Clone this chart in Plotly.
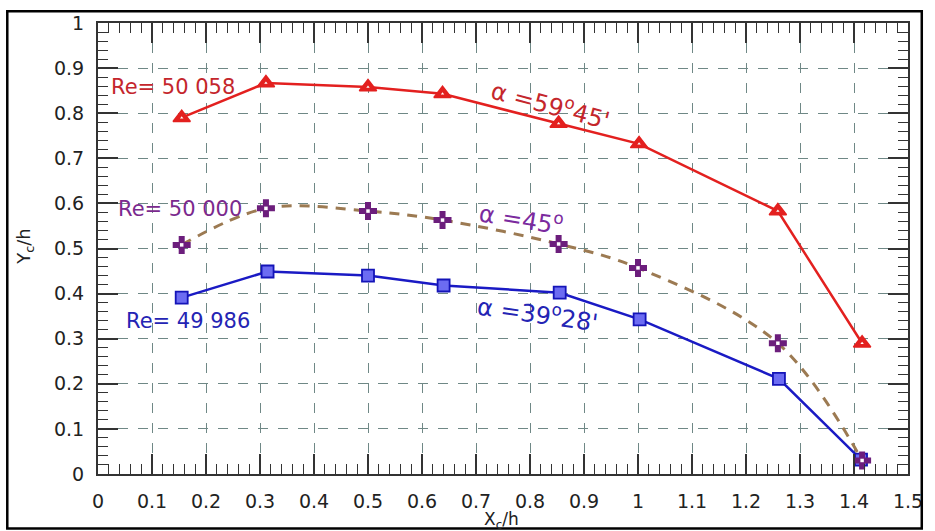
import plotly.graph_objects as go

# Centre-line coordinates of the jet for three inclination angles
x_59 = [0.155, 0.311, 0.500, 0.638, 0.853, 1.002, 1.259, 1.415]
y_59 = [0.790, 0.867, 0.858, 0.843, 0.777, 0.732, 0.583, 0.290]

x_45 = [0.155, 0.311, 0.500, 0.638, 0.853, 1.000, 1.259, 1.415]
y_45 = [0.508, 0.589, 0.583, 0.563, 0.510, 0.457, 0.290, 0.030]

x_39 = [0.155, 0.314, 0.500, 0.640, 0.855, 1.003, 1.261, 1.413]
y_39 = [0.391, 0.449, 0.440, 0.418, 0.402, 0.343, 0.211, 0.032]

x_ticks = [i / 10 for i in range(16)]
y_ticks = [i / 10 for i in range(11)]

RED = "#e3201f"
BLUE = "#1a1ac4"
PURPLE = "#6c1e7c"
TAN = "#9c7a52"
GRID = "#6f8886"
FONT = "DejaVu Sans"

fig = go.Figure()

# alpha = 39°28'
fig.add_trace(go.Scatter(
    x=x_39, y=y_39, mode="lines+markers",
    line=dict(color=BLUE, width=2.5),
    marker=dict(symbol="square", size=12, color="#6c6cf2",
                line=dict(color="#1414b8", width=1.8)),
))

# alpha = 45°: smoothed dashed curve plus cross markers with a white centre
fig.add_trace(go.Scatter(
    x=x_45, y=y_45, mode="lines",
    line=dict(color=TAN, width=3, dash="10px,8px", shape="spline", smoothing=1.0),
))
fig.add_trace(go.Scatter(
    x=x_45, y=y_45, mode="markers",
    marker=dict(symbol="cross", size=15, color=PURPLE, line=dict(width=0)),
))
fig.add_trace(go.Scatter(
    x=x_45, y=y_45, mode="markers",
    marker=dict(symbol="square", size=3.5, color="white", line=dict(width=0)),
))

# alpha = 59°45': solid red triangles with a small white core
fig.add_trace(go.Scatter(
    x=x_59, y=y_59, mode="lines+markers",
    line=dict(color=RED, width=2.5),
    marker=dict(symbol="triangle-up", size=15, color=RED,
                line=dict(color=RED, width=1.5)),
))
fig.add_trace(go.Scatter(
    x=x_59, y=y_59, mode="markers",
    marker=dict(symbol="triangle-up", size=3, color="white", line=dict(width=0)),
))

axis_common = dict(
    showline=True, linecolor="#333333", linewidth=2, mirror="allticks",
    ticks="inside", ticklen=20, tickwidth=1.5, tickcolor="#333333",
    showgrid=True, gridcolor=GRID, gridwidth=1.2, griddash="10px,10px",
    zeroline=False,
    tickfont=dict(family=FONT, size=19, color="#222222"),
    minor=dict(ticks="inside", ticklen=10, tickwidth=1.3, tickcolor="#333333",
               dtick=0.02, showgrid=False),
)

fig.update_xaxes(range=[0, 1.5], tickvals=x_ticks,
                 ticktext=[f"{v:g}" for v in x_ticks],
                 ticklabelstandoff=9, **axis_common)
fig.update_yaxes(range=[0, 1], tickvals=y_ticks,
                 ticktext=[f"{v:g}" for v in y_ticks],
                 ticklabelstandoff=8, **axis_common)

annotations = [
    dict(x=0.021, y=0.858, xref="x", yref="y", text="Re= 50 058",
         xanchor="left", font=dict(color="#c4262c", size=21)),
    dict(x=0.034, y=0.587, xref="x", yref="y", text="Re= 50 000",
         xanchor="left", font=dict(color="#7b2a8e", size=21)),
    dict(x=0.049, y=0.339, xref="x", yref="y", text="Re= 49 986",
         xanchor="left", font=dict(color="#2424b4", size=21)),
    dict(x=0.839, y=0.821, xref="x", yref="y", text="α =59<sup>o</sup>45'",
         textangle=15, font=dict(color="#c4262c", size=24)),
    dict(x=0.784, y=0.568, xref="x", yref="y", text="α =45<sup>o</sup>",
         textangle=9, font=dict(color="#7b2a9e", size=24)),
    dict(x=0.815, y=0.356, xref="x", yref="y", text="α =39<sup>o</sup>28'",
         textangle=8, font=dict(color="#2424b4", size=24)),
    dict(x=-0.09, y=0.504, xref="paper", yref="paper", text="Y<sub>c</sub>/h",
         xanchor="center", yanchor="middle",
         textangle=-90, font=dict(color="#222222", size=18)),
    dict(x=0.498, y=-0.103, xref="paper", yref="paper", text="X<sub>c</sub>/h",
         xanchor="center", yanchor="middle",
         font=dict(color="#222222", size=17)),
]
for a in annotations:
    a.setdefault("showarrow", False)
    a["font"].setdefault("family", FONT)

fig.update_layout(
    width=935, height=531,
    margin=dict(l=98, r=19, t=20, b=57, pad=0),
    paper_bgcolor="white", plot_bgcolor="white",
    showlegend=False,
    annotations=annotations,
    shapes=[dict(type="rect", xref="paper", yref="paper",
                 x0=-0.112, x1=1.017, y0=-0.121, y1=1.026,
                 line=dict(color="black", width=2.5), layer="above")],
)

fig.write_html("out.html")
